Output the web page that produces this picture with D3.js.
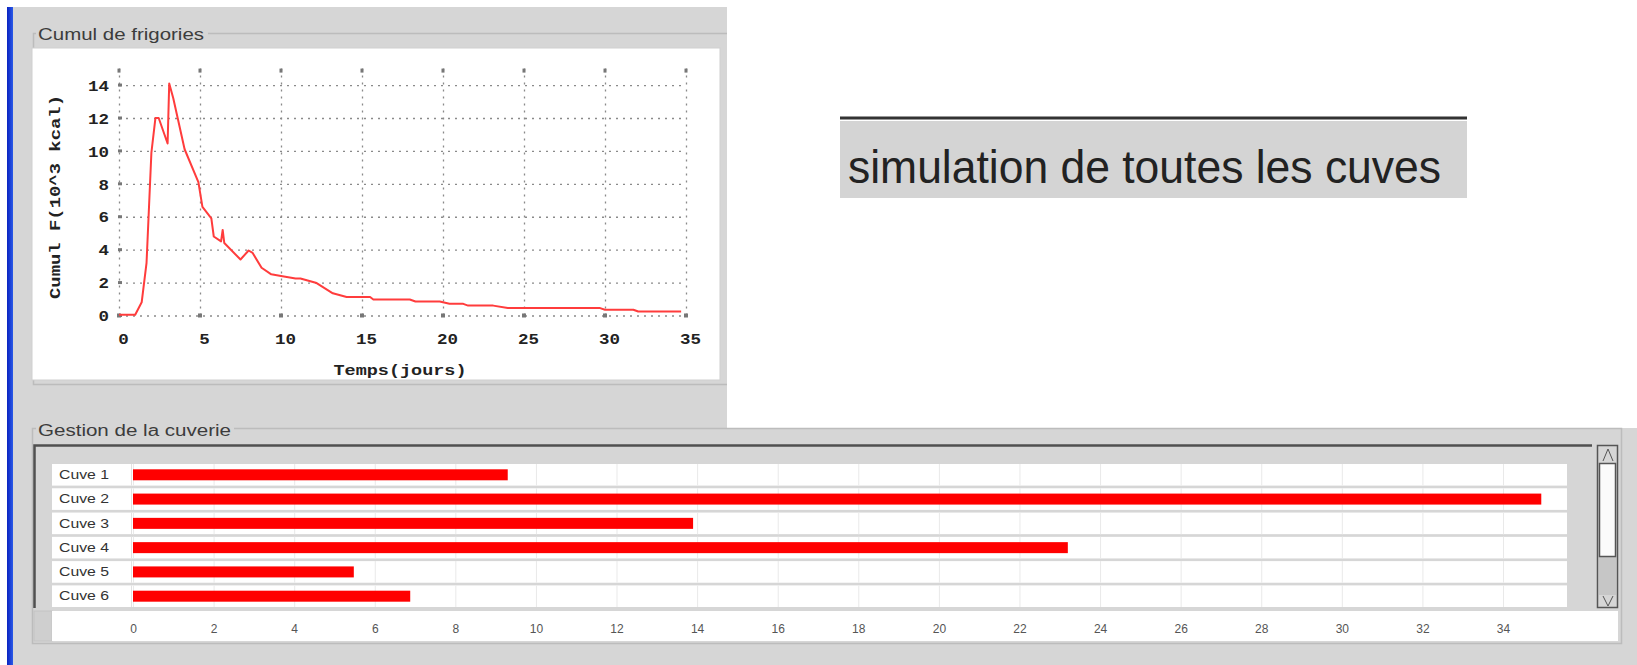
<!DOCTYPE html>
<html><head><meta charset="utf-8">
<script src="https://cdn.jsdelivr.net/npm/d3@7"></script>
<style>html,body{margin:0;padding:0;background:#fff;overflow:hidden}</style>
</head><body><svg id="c" width="1637" height="665"></svg>
<script>
// ---- data ----
const lineDays  = [0, 1.0, 1.4, 1.7, 2.0, 2.25, 2.45, 3.0, 3.1, 3.35, 4.05, 4.9, 5.15, 5.7, 5.85, 6.3, 6.4, 6.5, 7.5, 8.0, 8.25, 8.8, 9.4, 10.0, 10.9, 11.2, 12.2, 13.2, 14.05, 15.5, 15.7, 17.95, 18.3, 19.8, 20.4, 21.25, 21.55, 23.1, 24.0, 29.7, 30.0, 31.75, 32.05, 34.7];
const lineCumul = [0.05, 0.05, 0.8, 3.2, 9.9, 12.0, 12.0, 10.45, 14.1, 13.2, 10.1, 8.1, 6.6, 5.9, 4.8, 4.5, 5.2, 4.4, 3.4, 3.95, 3.8, 2.9, 2.5, 2.4, 2.25, 2.25, 1.97, 1.35, 1.12, 1.12, 0.97, 0.97, 0.85, 0.85, 0.71, 0.71, 0.6, 0.6, 0.45, 0.45, 0.35, 0.35, 0.24, 0.24];
const xTicksDays  = [0, 5, 10, 15, 20, 25, 30, 35];
const yTicksCumul = [0, 2, 4, 6, 8, 10, 12, 14];
const cuveNames  = ["Cuve 1", "Cuve 2", "Cuve 3", "Cuve 4", "Cuve 5", "Cuve 6"];
const cuveValues = [9.3, 34.95, 13.9, 23.2, 5.48, 6.88];
const barTicks   = [0, 2, 4, 6, 8, 10, 12, 14, 16, 18, 20, 22, 24, 26, 28, 30, 32, 34];
const texts = {
  top: "Cumul de frigories",
  bottom: "Gestion de la cuverie",
  banner: "simulation de toutes les cuves",
  xLabel: "Temps(jours)",
  yLabel: "Cumul F(10^3 kcal)"
};

const svg = d3.select("#c");
const GRAY = "#d6d6d6", BORDER = "#bcbcbc";
const SANS = "'Liberation Sans', Arial, sans-serif";
const MONO = "'Liberation Mono', 'DejaVu Sans Mono', monospace";

// ---- backgrounds ----
svg.append("rect").attr("x",0).attr("y",0).attr("width",1637).attr("height",665).attr("fill","#fff");
svg.append("rect").attr("x",13).attr("y",7).attr("width",714).attr("height",422).attr("fill",GRAY);
svg.append("rect").attr("x",13).attr("y",428).attr("width",1624).attr("height",237).attr("fill",GRAY);
const defs = svg.append("defs");
const g1 = defs.append("linearGradient").attr("id","blue").attr("x1","0").attr("x2","1");
g1.append("stop").attr("offset","0").attr("stop-color","#0a22c0");
g1.append("stop").attr("offset","1").attr("stop-color","#2a5ae8");
svg.append("rect").attr("x",7).attr("y",7).attr("width",6).attr("height",658).attr("fill","url(#blue)");

// ---- top panel titled border ----
svg.append("path").attr("d","M36,33.5 H33.5 V384.5 H727 M208,33.5 H727")
  .attr("fill","none").attr("stroke",BORDER).attr("stroke-width",1.5);
svg.append("text").attr("x",38).attr("y",40).text(texts.top)
  .attr("font-family",SANS).attr("font-size",16).attr("fill","#3c3c3c")
  .attr("textLength",166).attr("lengthAdjust","spacingAndGlyphs");
svg.append("rect").attr("x",32).attr("y",48).attr("width",688).attr("height",332)
  .attr("fill","#fff").attr("stroke","#cfcfcf");

// ---- line chart ----
const x = d3.scaleLinear().domain([0,35]).range([119,686]);
const y = d3.scaleLinear().domain([0,15]).range([315.5,68.6]);
const gx = svg.append("g").attr("transform",`translate(0,${y(0)})`)
  .call(d3.axisBottom(x).tickValues(xTicksDays).tickSize(-(y(0)-y(15))).tickPadding(18));
const gy = svg.append("g").attr("transform",`translate(${x(0)},0)`)
  .call(d3.axisLeft(y).tickValues(yTicksCumul).tickSize(-(x(35)-x(0))).tickPadding(10));
[gx,gy].forEach(g=>{
  g.select(".domain").remove();
  g.selectAll(".tick line").attr("stroke","#8a8a8a").attr("stroke-width",1.3).attr("stroke-dasharray","2,5");
  g.selectAll(".tick text").attr("font-family",MONO).attr("font-weight","bold").attr("font-size",15).attr("fill","#222")
    .attr("lengthAdjust","spacingAndGlyphs").attr("textLength",d=>String(d).length*10.5);
});
gx.selectAll(".tick text").attr("dx",4);
gy.selectAll(".tick text").attr("dy","0.35em");
// small tick squares on axes
svg.append("g").selectAll("rect").data(xTicksDays).join("rect")
  .attr("x",d=>x(d)-1.5).attr("y",y(15)).attr("width",3).attr("height",4).attr("fill","#777");
svg.append("g").selectAll("rect").data(xTicksDays).join("rect")
  .attr("x",d=>x(d)-2).attr("y",y(0)-2).attr("width",4).attr("height",4).attr("fill","#777");
svg.append("g").selectAll("rect").data(yTicksCumul).join("rect")
  .attr("x",x(0)-1).attr("y",d=>y(d)-1.5).attr("width",4).attr("height",3).attr("fill","#777");

const pts = lineDays.map((d,i)=>[d,lineCumul[i]]);
svg.append("path").datum(pts)
  .attr("d",d3.line().x(d=>x(d[0])).y(d=>y(d[1])))
  .attr("fill","none").attr("stroke","#ff3c3c").attr("stroke-width",2).attr("stroke-linejoin","round");

svg.append("text").attr("x",400).attr("y",375).attr("text-anchor","middle").text(texts.xLabel)
  .attr("font-family",MONO).attr("font-weight","bold").attr("font-size",15).attr("fill","#222")
  .attr("textLength",133).attr("lengthAdjust","spacingAndGlyphs");
svg.append("text").attr("transform","translate(60,197) rotate(-90)").attr("text-anchor","middle").text(texts.yLabel)
  .attr("font-family",MONO).attr("font-weight","bold").attr("font-size",15).attr("fill","#222")
  .attr("textLength",204).attr("lengthAdjust","spacingAndGlyphs");

// ---- banner ----
svg.append("line").attr("x1",840).attr("x2",1467).attr("y1",118).attr("y2",118).attr("stroke","#333").attr("stroke-width",3);
svg.append("rect").attr("x",840).attr("y",121).attr("width",627).attr("height",77).attr("fill","#d4d4d4");
svg.append("text").attr("x",848).attr("y",183).text(texts.banner)
  .attr("font-family",SANS).attr("font-size",46).attr("fill","#222")
  .attr("textLength",593).attr("lengthAdjust","spacingAndGlyphs");

// ---- bottom panel ----
svg.append("path").attr("d","M36,428.5 H32.5 V643.5 H1621.5 V428.5 H234")
  .attr("fill","none").attr("stroke",BORDER).attr("stroke-width",1.5);
svg.append("text").attr("x",38).attr("y",436).text(texts.bottom)
  .attr("font-family",SANS).attr("font-size",16).attr("fill","#3c3c3c")
  .attr("textLength",193).attr("lengthAdjust","spacingAndGlyphs");
svg.append("path").attr("d","M34.5,608 V445.5 H1592").attr("fill","none").attr("stroke","#505050").attr("stroke-width",2.5);

const xb = d3.scaleLinear().domain([0,34]).range([133,1503]);
const yb = d3.scaleBand().domain(cuveNames).range([464,607]).paddingInner(0.11);

// white rows
svg.append("g").selectAll("rect").data(cuveNames).join("rect")
  .attr("x",52).attr("y",d=>yb(d)).attr("width",1515).attr("height",yb.bandwidth()).attr("fill","#fff");
// grid via axis, clipped to rows
const clip = defs.append("clipPath").attr("id","rowclip");
clip.selectAll("rect").data(cuveNames).join("rect")
  .attr("x",131).attr("y",d=>yb(d)).attr("width",1436).attr("height",yb.bandwidth());
const gg = svg.append("g").attr("clip-path","url(#rowclip)").append("g").attr("transform","translate(0,607)")
  .call(d3.axisBottom(xb).tickValues(barTicks).tickSize(-(607-464)).tickFormat(""));
gg.select(".domain").remove();
gg.selectAll(".tick line").attr("stroke","#e9e9e9").attr("stroke-width",1);
// row label cells separator
svg.append("g").selectAll("line").data(cuveNames).join("line")
  .attr("x1",131.5).attr("x2",131.5).attr("y1",d=>yb(d)).attr("y2",d=>yb(d)+yb.bandwidth())
  .attr("stroke","#e2e2e2");
svg.append("g").selectAll("text").data(cuveNames).join("text")
  .attr("x",59).attr("y",d=>yb(d)+yb.bandwidth()/2).attr("dy","0.35em").text(d=>d)
  .attr("font-family",SANS).attr("font-size",12).attr("fill","#333")
  .attr("textLength",50).attr("lengthAdjust","spacingAndGlyphs");
// bars
svg.append("g").selectAll("rect").data(cuveValues).join("rect")
  .attr("x",xb(0)).attr("y",(d,i)=>yb(cuveNames[i])+yb.bandwidth()/2-5.5)
  .attr("width",d=>xb(d)-xb(0)).attr("height",11).attr("fill","#ff0000");

// axis row
svg.append("rect").attr("x",34).attr("y",611).attr("width",18).attr("height",30).attr("fill","#cfcfcf").attr("stroke","#c4c4c4");
svg.append("rect").attr("x",52).attr("y",611).attr("width",1566).attr("height",30).attr("fill","#fff");
const ga = svg.append("g").attr("transform","translate(0,611)")
  .call(d3.axisBottom(xb).tickValues(barTicks).tickSize(0).tickPadding(13));
ga.select(".domain").remove();
ga.selectAll(".tick text").attr("font-family",SANS).attr("font-size",12).attr("fill","#555");

// scrollbar
svg.append("rect").attr("x",1597.5).attr("y",445.5).attr("width",20).attr("height",162).attr("fill",GRAY).attr("stroke","#555").attr("stroke-width",1.5);
svg.append("rect").attr("x",1599).attr("y",557).attr("width",17).attr("height",38).attr("fill","#c6c6c6");
svg.append("rect").attr("x",1599.5).attr("y",463.5).attr("width",16).attr("height",93).attr("fill","#fbfbfb").attr("stroke","#555").attr("stroke-width",1.5);
svg.append("path").attr("d","M1603,461 L1608,449 L1613,461").attr("fill","none").attr("stroke","#555");
svg.append("path").attr("d","M1603,596 L1608,606 L1613,596").attr("fill","none").attr("stroke","#555");
</script></body></html>
